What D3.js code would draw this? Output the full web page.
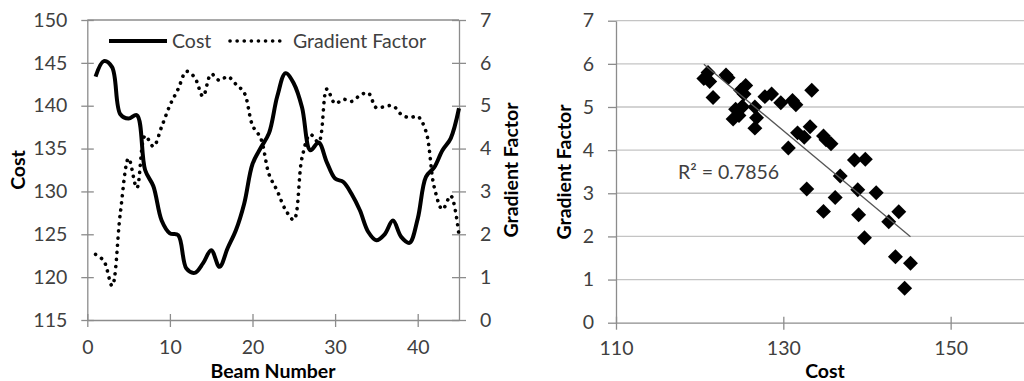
<!DOCTYPE html>
<html>
<head>
<meta charset="utf-8">
<script src="https://cdn.jsdelivr.net/npm/d3@7"></script>
<style>
  html, body { margin: 0; padding: 0; background: #fff; }
  svg { display: block; }
  text { font-family: Lato, "Open Sans", sans-serif; }
</style>
</head>
<body>
<svg id="chart" width="1024" height="381"></svg>
<script>
// ---------------- data ----------------
const beams = d3.range(1, 46);
const cost = [143.4, 145.2, 144.5, 139.0, 138.5, 138.9, 132.5, 130.6, 126.6, 125.1,
              124.9, 121.0, 120.5, 121.6, 123.15, 121.2, 123.4, 125.5, 128.6, 133.2,
              135.1, 136.8, 141.1, 143.8, 142.6, 139.8, 134.8, 135.7, 133.4, 131.5,
              131.1, 129.7, 127.8, 125.3, 124.3, 125.0, 126.6, 124.7, 124.0, 126.8,
              131.7, 132.8, 134.8, 136.2, 139.7];
const gradientFactor = [1.53, 1.38, 0.80, 2.50, 3.77, 3.08, 4.30, 4.05, 4.51, 5.01,
              5.39, 5.80, 5.66, 5.22, 5.74, 5.59, 5.68, 5.50, 5.30, 4.54,
              4.24, 3.40, 3.01, 2.57, 2.34, 3.79, 4.33, 4.15, 5.39, 5.05,
              5.15, 5.10, 5.24, 5.30, 4.95, 4.98, 5.00, 4.80, 4.72, 4.75,
              4.40, 3.10, 2.58, 2.90, 1.97];
const beamTicks = [0, 10, 20, 30, 40];
const costTicks = [115, 120, 125, 130, 135, 140, 145, 150];
const gfTicks = [0, 1, 2, 3, 4, 5, 6, 7];
const scatterXTicks = [110, 130, 150];
const scatterYTicks = [0, 1, 2, 3, 4, 5, 6, 7];
const r2Label = "R\u00B2 = 0.7856";

// ---------------- setup ----------------
const svg = d3.select("#chart");
const axisCol = "#8c8c8c", gridCol = "#c4c4c4", tickTxt = "#404040";
const fs = "19.5px", tfs = "19.5px";
const fmt = d3.format("d");

// ================= LEFT CHART =================
const xL = d3.scaleLinear().domain([0, 45]).range([87.3, 459]);
const yC = d3.scaleLinear().domain([115, 150]).range([320, 20]);
const yG = d3.scaleLinear().domain([0, 7]).range([320, 20]);

const gL = svg.append("g");
gL.append("line").attr("x1", xL(0)).attr("x2", xL(45)).attr("y1", yC(150)).attr("y2", yC(150))
  .attr("stroke", axisCol).attr("stroke-width", 1.3);

function styleAxis(g) {
  g.select(".domain").attr("stroke", axisCol).attr("stroke-width", 1.3);
  g.selectAll(".tick line").attr("stroke", axisCol).attr("stroke-width", 1.3);
  g.selectAll(".tick text").attr("fill", tickTxt).style("font-size", fs)
    .style("font-family", "Lato, 'Open Sans', sans-serif");
}

const axL = gL.append("g").attr("transform", `translate(${xL(0)},0)`)
  .call(d3.axisLeft(yC).tickValues(costTicks).tickFormat(fmt).tickSizeOuter(0).tickSizeInner(6).tickPadding(14));
styleAxis(axL);
axL.selectAll(".tick line").attr("x1", 6.5).attr("x2", -6);

const axR = gL.append("g").attr("transform", `translate(${xL(45)},0)`)
  .call(d3.axisRight(yG).tickValues(gfTicks).tickFormat(fmt).tickSizeOuter(0).tickSizeInner(7).tickPadding(14));
styleAxis(axR);
axR.selectAll(".tick line").attr("x1", -7).attr("x2", 7);

const axB = gL.append("g").attr("transform", `translate(0,${yC(115)})`)
  .call(d3.axisBottom(xL).tickValues(beamTicks).tickFormat(fmt).tickSizeOuter(0).tickSizeInner(7).tickPadding(13));
styleAxis(axB);
axB.selectAll(".tick line").attr("y1", -6).attr("y2", 7);

// lines
const costLine = d3.line().x((d, i) => xL(beams[i])).y(d => yC(d)).curve(d3.curveCatmullRom.alpha(0.5));
const gfLine = d3.line().x((d, i) => xL(beams[i])).y(d => yG(d)).curve(d3.curveCatmullRom.alpha(0.5));

gL.append("path").datum(gradientFactor).attr("d", gfLine)
  .attr("fill", "none").attr("stroke", "#000").attr("stroke-width", 3.6)
  .attr("stroke-linecap", "round").attr("stroke-dasharray", "0.1 7");
gL.append("path").datum(cost).attr("d", costLine)
  .attr("fill", "none").attr("stroke", "#000").attr("stroke-width", 4)
  .attr("stroke-linejoin", "round");

// legend
const leg = gL.append("g");
leg.append("rect").attr("x", 104).attr("y", 28).attr("width", 336).attr("height", 26).attr("fill", "#fff");
leg.append("line").attr("x1", 109).attr("x2", 167).attr("y1", 41).attr("y2", 41)
  .attr("stroke", "#000").attr("stroke-width", 4);
leg.append("text").attr("x", 172).attr("y", 48).text("Cost").attr("fill", tickTxt).style("font-size", fs);
leg.append("line").attr("x1", 230).attr("x2", 284).attr("y1", 41).attr("y2", 41)
  .attr("stroke", "#000").attr("stroke-width", 3.6).attr("stroke-linecap", "round")
  .attr("stroke-dasharray", "0.1 7");
leg.append("text").attr("x", 293).attr("y", 48).text("Gradient Factor").attr("fill", tickTxt).style("font-size", fs);

// axis titles
gL.append("text").attr("x", 273).attr("y", 378).attr("text-anchor", "middle")
  .style("font-size", tfs).style("font-weight", "bold").text("Beam Number");
gL.append("text").attr("transform", "translate(25,170) rotate(-90)").attr("text-anchor", "middle")
  .style("font-size", tfs).style("font-weight", "bold").text("Cost");
gL.append("text").attr("transform", "translate(518,170) rotate(-90)").attr("text-anchor", "middle")
  .style("font-size", tfs).style("font-weight", "bold").text("Gradient Factor");

// ================= RIGHT CHART =================
const xS = d3.scaleLinear().domain([110, 160]).range([616, 1034.3]);
const yS = d3.scaleLinear().domain([0, 7]).range([322.7, 20.7]);
const gR = svg.append("g");

gR.append("g").selectAll("line").data(scatterYTicks.filter(d => d > 0)).join("line")
  .attr("x1", xS(110)).attr("x2", xS(160)).attr("y1", d => yS(d)).attr("y2", d => yS(d))
  .attr("stroke", gridCol).attr("stroke-width", 1.3);

const sY = gR.append("g").attr("transform", `translate(${xS(110)},0)`)
  .call(d3.axisLeft(yS).tickValues(scatterYTicks).tickFormat(fmt).tickSizeOuter(0).tickSizeInner(8).tickPadding(14));
styleAxis(sY);
const sX = gR.append("g").attr("transform", `translate(0,${yS(0)})`)
  .call(d3.axisBottom(xS).tickValues(scatterXTicks).tickFormat(fmt).tickSizeOuter(0).tickSizeInner(7).tickPadding(11));
styleAxis(sX);
sX.selectAll(".tick line").attr("y1", -6).attr("y2", 7);

// regression
const pts = cost.map((c, i) => [c, gradientFactor[i]]);
const mx = d3.mean(pts, d => d[0]), my = d3.mean(pts, d => d[1]);
const slope = d3.sum(pts, d => (d[0] - mx) * (d[1] - my)) / d3.sum(pts, d => (d[0] - mx) ** 2);
const icpt = my - slope * mx;
const [xmin, xmax] = d3.extent(cost);

const sym = d3.symbol().type(d3.symbolSquare).size(112);
gR.append("g").selectAll("path").data(pts).join("path")
  .attr("d", sym)
  .attr("transform", d => `translate(${xS(d[0])},${yS(d[1])}) rotate(45)`)
  .attr("fill", "#000");

gR.append("line").attr("x1", xS(xmin)).attr("x2", xS(xmax))
  .attr("y1", yS(icpt + slope * xmin)).attr("y2", yS(icpt + slope * xmax))
  .attr("stroke", "#555").attr("stroke-width", 1.3);

gR.append("text").attr("x", 678).attr("y", 179).attr("fill", tickTxt).style("font-size", fs).text(r2Label);

gR.append("text").attr("x", 825).attr("y", 378).attr("text-anchor", "middle")
  .style("font-size", tfs).style("font-weight", "bold").text("Cost");
gR.append("text").attr("transform", "translate(571,172) rotate(-90)").attr("text-anchor", "middle")
  .style("font-size", tfs).style("font-weight", "bold").text("Gradient Factor");
</script>
</body>
</html>
